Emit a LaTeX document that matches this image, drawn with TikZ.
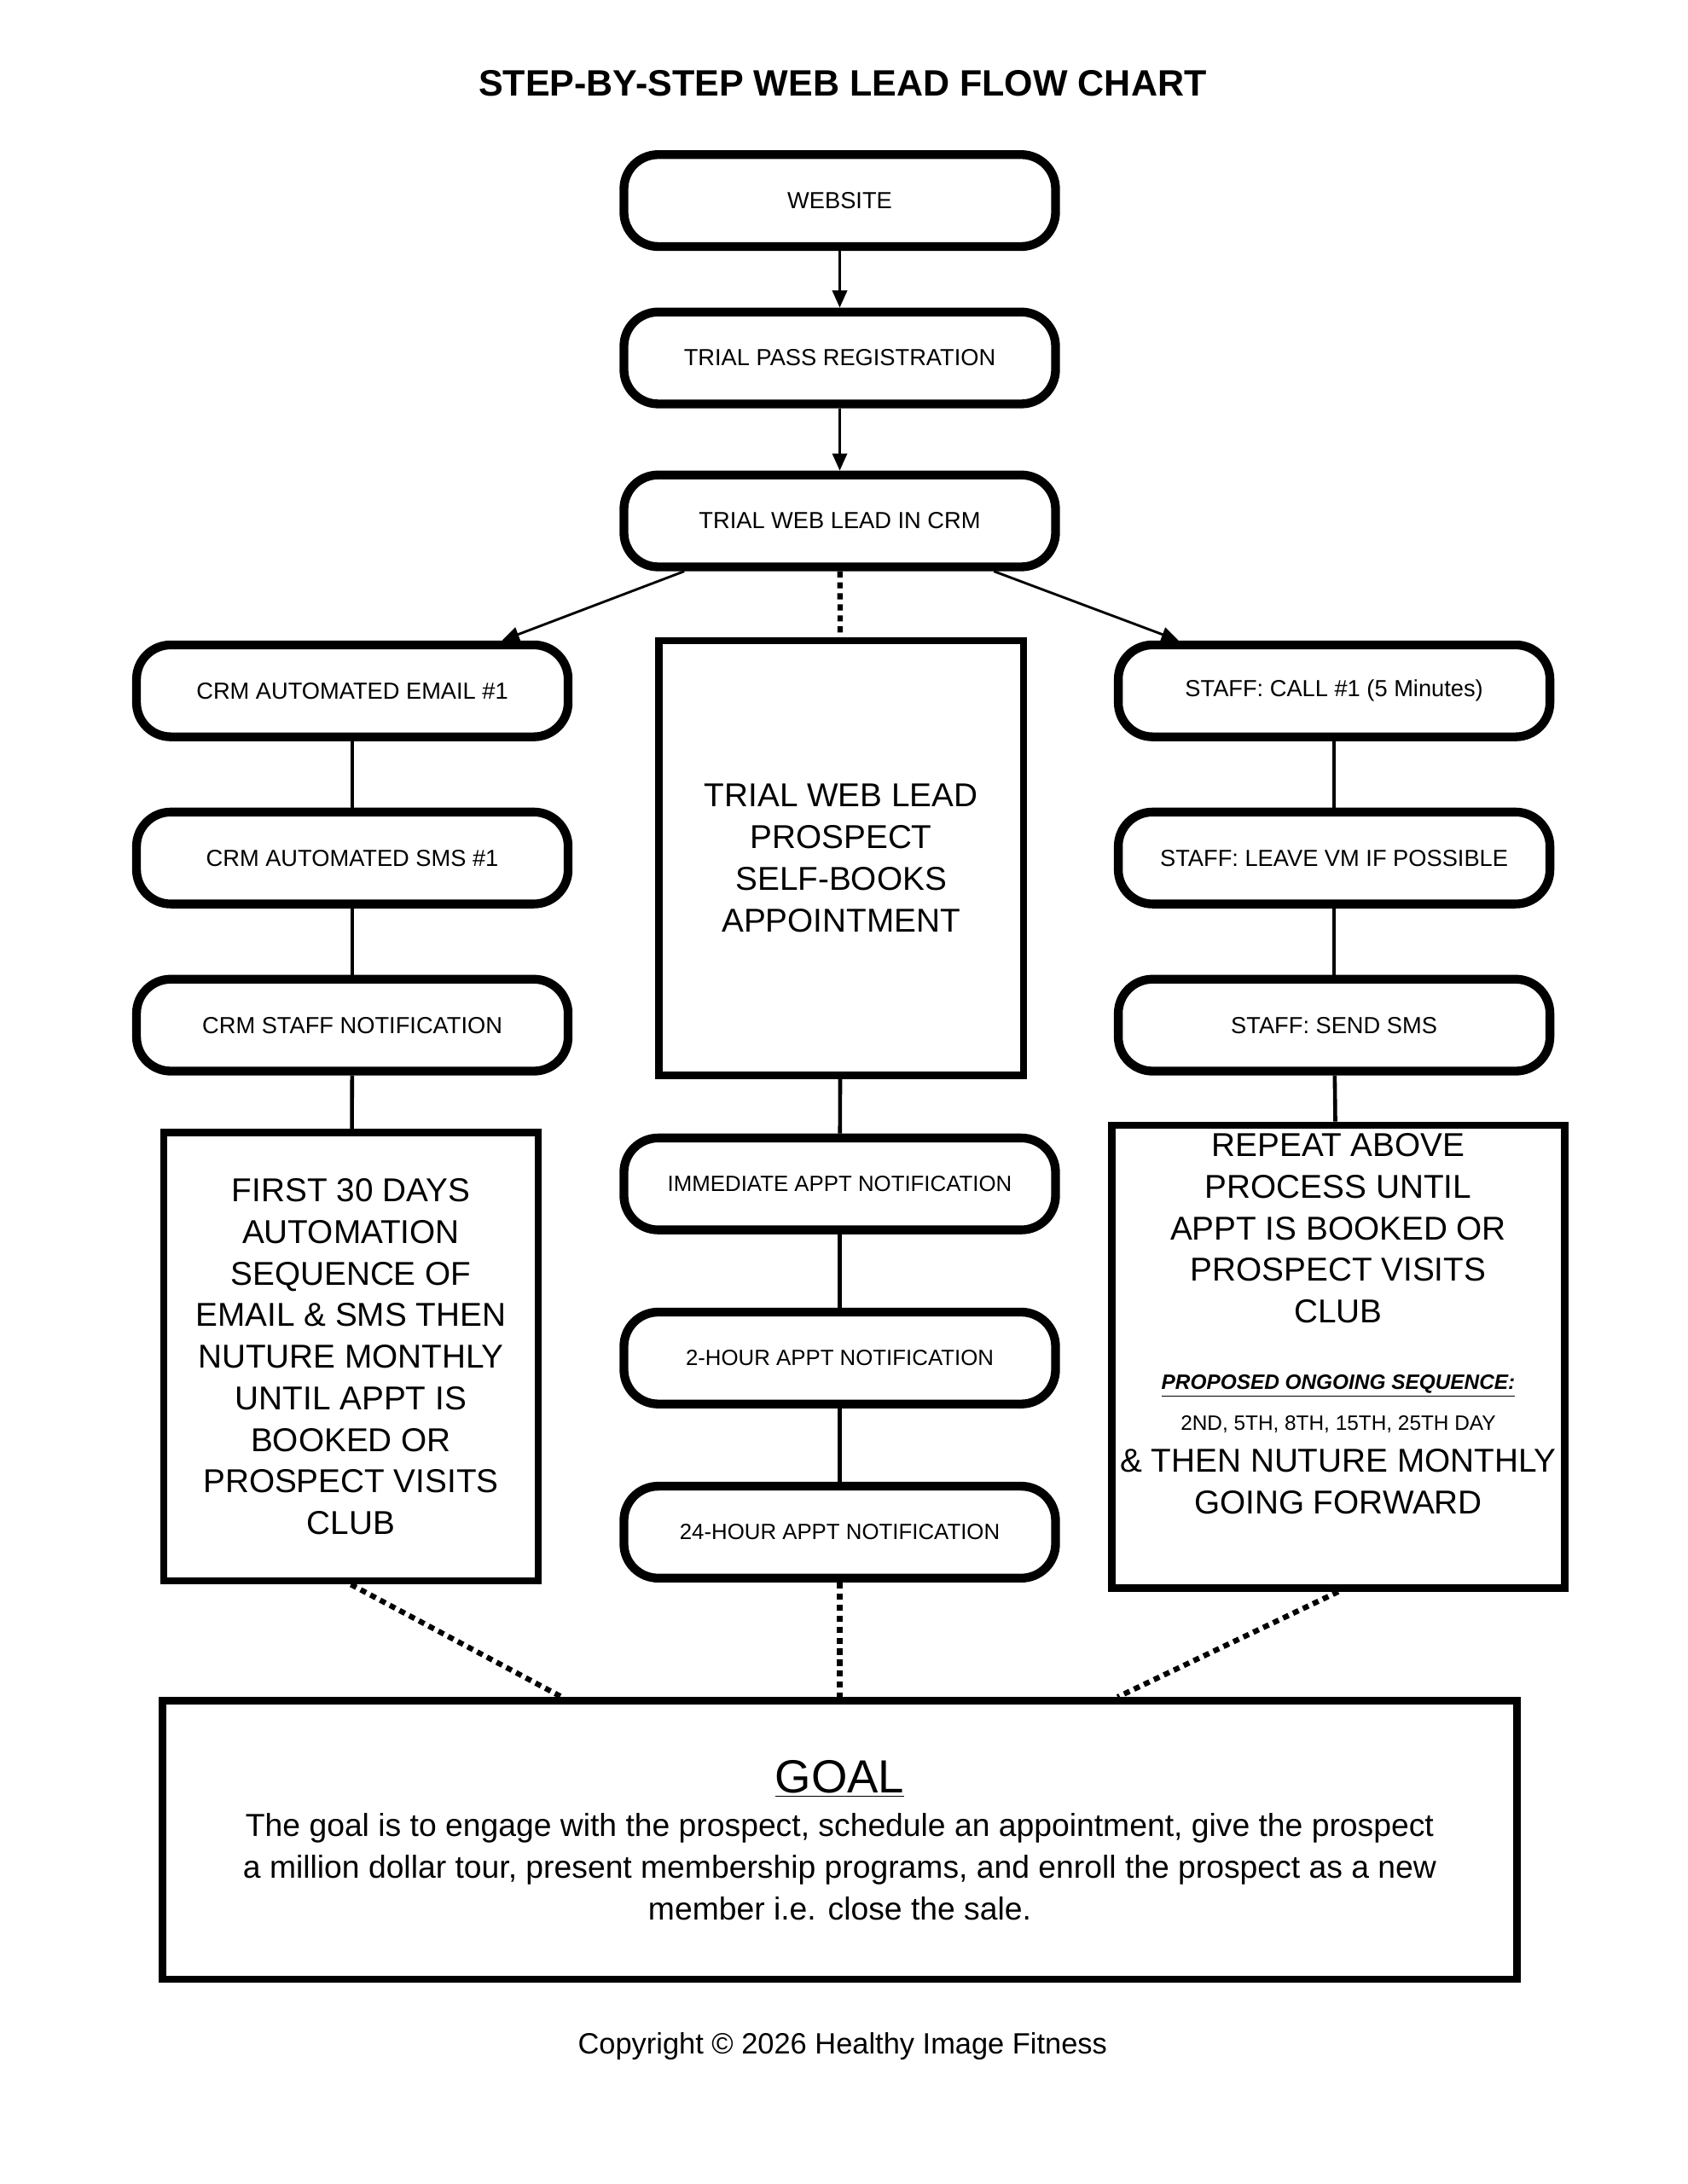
\documentclass[tikz,border=0pt]{standalone}
\usepackage{fontspec}
\setmainfont{Liberation Sans}
\usetikzlibrary{arrows.meta,positioning,calc}

\begin{document}
\begin{tikzpicture}[x=0.02cm,y=-0.02cm,semithick,
    stage/.style={rectangle,rounded corners=14pt,draw=black,line width=3.6pt,minimum width=6.2cm,minimum height=1.32cm,align=center,font=\fontsize{9.5}{11}\selectfont},
    bigbox/.style={rectangle,draw=black,line width=3pt,align=center,font=\fontsize{13.5}{17}\selectfont},
    link/.style={line width=1.6pt},
    dots/.style={line width=2.2pt,dash pattern=on 2.5pt off 2pt},
    flow/.style={line width=1pt,-{Triangle[length=7pt,width=6pt]}}]
  \useasboundingbox (0,0) rectangle (1212,1568);

  \node[font=\bfseries\fontsize{15}{18}\selectfont] (title) at (605,60) {STEP-BY-STEP WEB LEAD FLOW CHART};

  % main trunk
  \node[stage] (web) at (603,144) {WEBSITE};
  \node[stage] (pass) at (603,257) {TRIAL PASS REGISTRATION};
  \node[stage] (lead) at (603,374) {TRIAL WEB LEAD IN CRM};

  % left column
  \node[stage] (email) at (253,496) {CRM AUTOMATED EMAIL \#1};
  \node[stage] (sms) at (253,616) {CRM AUTOMATED SMS \#1};
  \node[stage] (notif) at (253,736) {CRM STAFF NOTIFICATION};
  \node[bigbox,minimum width=5.38cm,minimum height=6.44cm] (first) at (252,974)
    {FIRST 30 DAYS\\AUTOMATION\\SEQUENCE OF\\EMAIL \& SMS THEN\\NUTURE MONTHLY\\UNTIL APPT IS\\BOOKED OR\\PROSPECT VISITS\\CLUB};

  % middle column
  \node[bigbox,minimum width=5.24cm,minimum height=6.24cm] (self) at (604,616)
    {TRIAL WEB LEAD\\PROSPECT\\SELF-BOOKS\\APPOINTMENT};
  \node[stage,font=\fontsize{9}{11}\selectfont] (imm) at (603,850) {IMMEDIATE APPT NOTIFICATION};
  \node[stage,font=\fontsize{9}{11}\selectfont] (two) at (603,975) {2-HOUR APPT NOTIFICATION};
  \node[stage,font=\fontsize{9}{11}\selectfont] (day) at (603,1100) {24-HOUR APPT NOTIFICATION};

  % right column
  \node[stage] (call) at (958,496) {STAFF: CALL \#1 (5 Minutes)};
  \node[stage] (vm) at (958,616) {STAFF: LEAVE VM IF POSSIBLE};
  \node[stage] (send) at (958,736) {STAFF: SEND SMS};
  \node[bigbox,minimum width=5.4cm,minimum height=6.44cm] (repeat) at (961,974)
    {REPEAT ABOVE\\PROCESS UNTIL\\APPT IS BOOKED OR\\PROSPECT VISITS\\CLUB\\[10pt]
     \fontsize{8.5}{10}\selectfont\bfseries\itshape\underline{PROPOSED ONGOING SEQUENCE:}\\
     \normalfont\fontsize{8.5}{10}\selectfont 2ND, 5TH, 8TH, 15TH, 25TH DAY\\\& THEN NUTURE MONTHLY\\GOING FORWARD\\[10pt]};

  % goal
  \node[bigbox,minimum width=19.46cm,minimum height=4cm,font=\fontsize{13}{17}\selectfont] (goal) at (603,1321)
    {\fontsize{19}{22}\selectfont\underline{GOAL}\\[1pt]
     \fontsize{13}{17}\selectfont The goal is to engage with the prospect, schedule an appointment, give the prospect\\
     a million dollar tour, present membership programs, and enroll the prospect as a new\\
     member i.e. close the sale.};

  \node[font=\fontsize{12}{14}\selectfont] (copy) at (605,1469) {Copyright © 2026 Healthy Image Fitness};

  % connectors
  \draw[flow] (web) -- (pass);
  \draw[flow] (pass) -- (lead);
  \draw[flow] ($(lead.south west)!0.147!(lead.south east)$) -- ($(email.north west)!0.84!(email.north east)$);
  \draw[flow] ($(lead.south west)!0.85!(lead.south east)$) -- ($(call.north west)!0.147!(call.north east)$);
  \draw[dots] (lead) -- (self);

  \draw[link] (email) -- (sms);
  \draw[link] (sms) -- (notif);
  \draw[link] (notif) -- (first);
  \draw[link] (call) -- (vm);
  \draw[link] (vm) -- (send);
  \draw[link] (send) -- (repeat);
  \draw[link] (self) -- (imm);
  \draw[link] (imm) -- (two);
  \draw[link] (two) -- (day);

  \draw[dots] (first.south) -- ($(goal.north west)!0.296!(goal.north east)$);
  \draw[dots] (day) -- (goal);
  \draw[dots] (repeat.south) -- ($(goal.north west)!0.704!(goal.north east)$);
\end{tikzpicture}
\end{document}
